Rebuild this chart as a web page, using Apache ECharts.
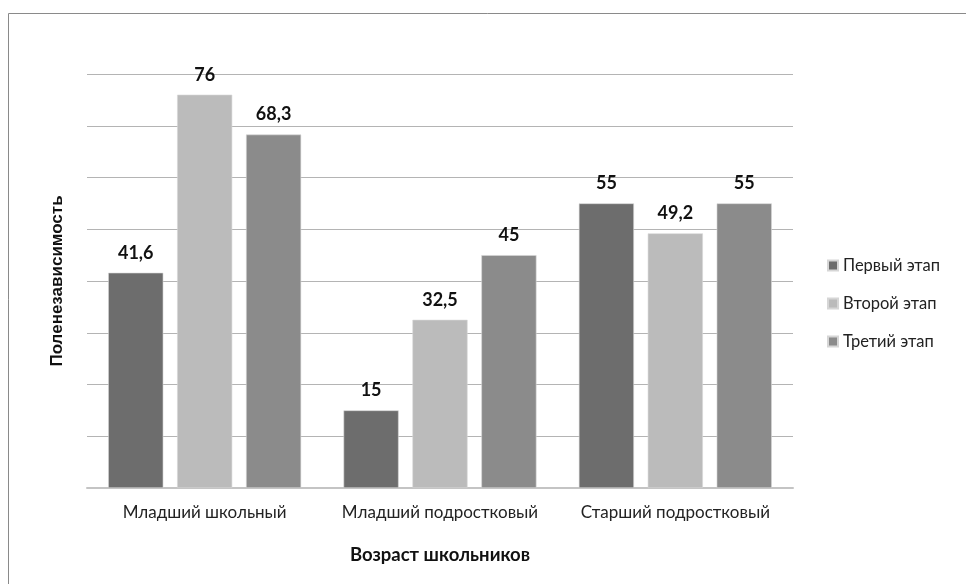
<!DOCTYPE html>
<html>
<head>
<meta charset="utf-8">
<script src="https://cdn.jsdelivr.net/npm/echarts@6/dist/echarts.min.js"></script>
<style>
  html, body { margin: 0; padding: 0; background: #ffffff; }
  #chart { width: 966px; height: 584px; }
</style>
</head>
<body>
<div id="chart"></div>
<script>
// Age groups on the category axis
const categories = ['Младший школьный', 'Младший подростковый', 'Старший подростковый'];
// Field independence per stage
const stage1 = [41.6, 15, 55];
const stage2 = [76, 32.5, 49.2];
const stage3 = [68.3, 45, 55];
const seriesNames = ['Первый этап', 'Второй этап', 'Третий этап'];
const colors = ['#6d6d6d', '#bbbbbb', '#8b8b8b'];

const labelFont = 'Lato, "Open Sans", "DejaVu Sans", sans-serif';

function makeSeries(name, data, color) {
  return {
    name: name,
    type: 'bar',
    data: data,
    barGap: '25%',
    barCategoryGap: '18%',
    itemStyle: { color: color, borderColor: '#d6d6d6', borderWidth: 0.6 },
    label: {
      show: true,
      position: 'top',
      distance: 11,
      color: '#111',
      fontFamily: labelFont,
      fontWeight: 'bold',
      fontSize: 18,
      formatter: p => String(p.value).replace('.', ',')
    }
  };
}

const chart = echarts.init(document.getElementById('chart'));
chart.setOption({
  animation: false,
  backgroundColor: '#ffffff',
  graphic: [{
    type: 'rect',
    shape: { x: 8.5, y: 13.5, width: 1000, height: 1000 },
    style: { fill: 'none', stroke: '#8a8a8a', lineWidth: 1 },
    silent: true
  }],
  grid: { left: 87, right: 173, top: 74, bottom: 96 },
  legend: {
    orient: 'vertical',
    left: 822,
    top: 252,
    itemWidth: 10,
    itemHeight: 10,
    itemGap: 21,
    icon: 'rect',
    textStyle: { fontFamily: labelFont, fontSize: 16.5, color: '#222' },
    data: seriesNames
  },
  xAxis: {
    type: 'category',
    data: categories,
    axisTick: { show: false },
    axisLine: { lineStyle: { color: '#c4c4c4', width: 2 } },
    axisLabel: { interval: 0, hideOverlap: false, margin: 16, fontFamily: labelFont, fontSize: 17, color: '#222' },
    name: 'Возраст школьников',
    nameLocation: 'middle',
    nameGap: 58,
    nameTextStyle: { fontFamily: labelFont, fontWeight: 'bold', fontSize: 18.5, color: '#111' }
  },
  yAxis: {
    type: 'value',
    min: 0,
    max: 80,
    interval: 10,
    axisLine: { show: false },
    axisTick: { show: false },
    axisLabel: { show: false },
    splitLine: { lineStyle: { color: '#b4b4b4', width: 1 } },
    name: 'Поленезависимость',
    nameLocation: 'middle',
    nameRotate: 90,
    nameGap: 21,
    nameTextStyle: { fontFamily: '"Liberation Sans", Arial, sans-serif', fontWeight: 'bold', fontSize: 17, color: '#111' }
  },
  series: [
    makeSeries(seriesNames[0], stage1, colors[0]),
    makeSeries(seriesNames[1], stage2, colors[1]),
    makeSeries(seriesNames[2], stage3, colors[2])
  ]
});
</script>
</body>
</html>
